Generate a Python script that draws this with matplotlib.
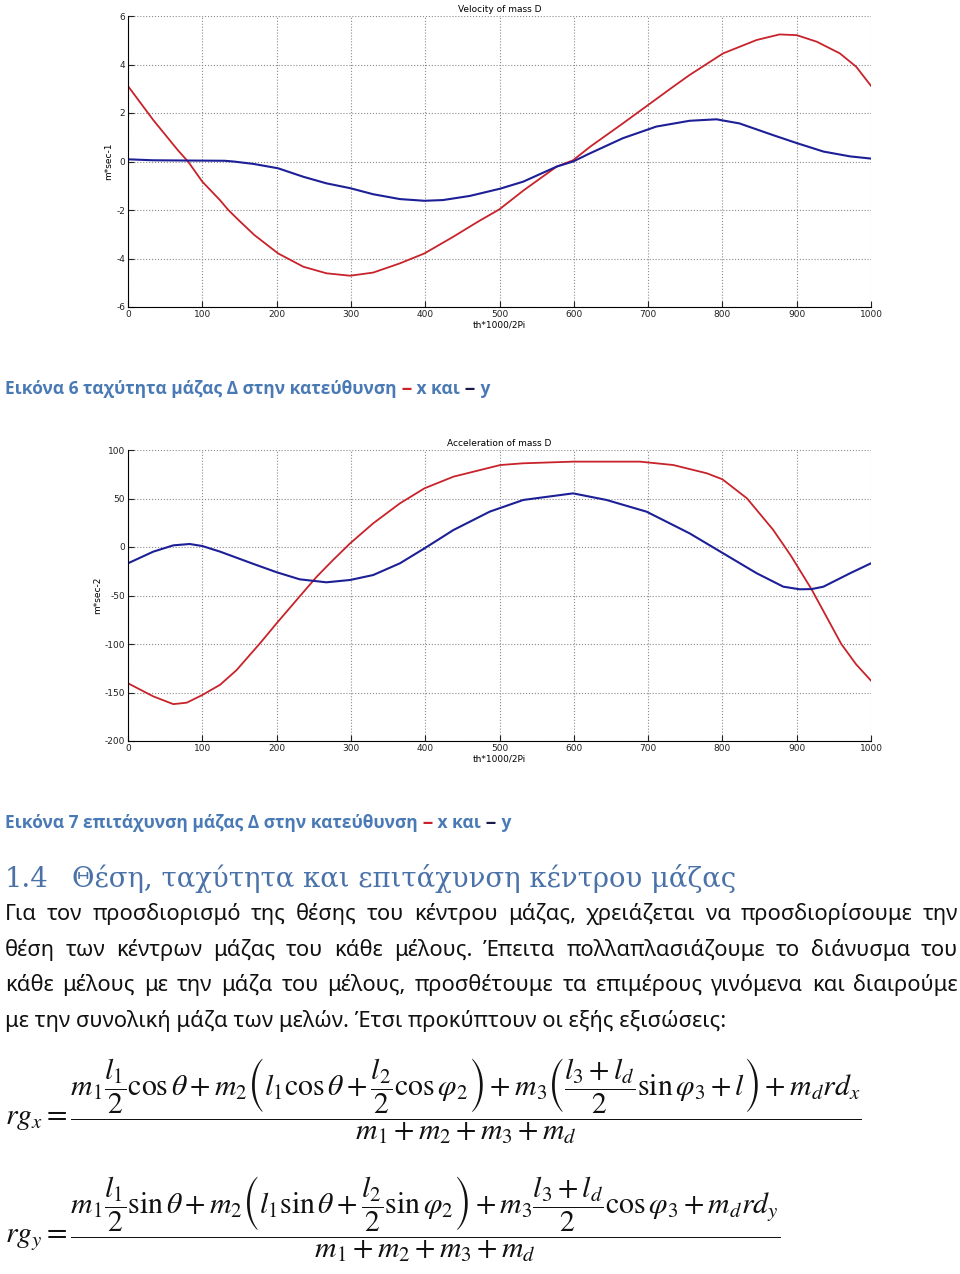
import matplotlib
matplotlib.use("Agg")
import matplotlib.pyplot as plt

# --- data (th*1000/2Pi -> value) ---
vel_x_th = [0, 34, 67, 81, 100, 124, 135, 150, 170, 202, 236, 267, 299, 330, 366, 399,
            438, 470, 500, 532, 577, 599, 622, 666, 700, 734, 756, 801, 846, 877, 900,
            927, 958, 980, 1000]
vel_x = [3.11, 1.71, 0.47, -0.01, -0.83, -1.6, -2.0, -2.45, -3.03, -3.79, -4.34, -4.61,
         -4.71, -4.58, -4.2, -3.79, -3.1, -2.5, -1.97, -1.2, -0.21, 0.05, 0.61, 1.57,
         2.33, 3.09, 3.57, 4.46, 5.01, 5.24, 5.21, 4.94, 4.46, 3.91, 3.12]

vel_y_th = [0, 34, 79, 130, 142, 169, 202, 236, 267, 299, 330, 366, 399, 424, 460,
            501, 532, 577, 599, 622, 666, 711, 756, 792, 823, 868, 900, 936, 972, 1000]
vel_y = [0.09, 0.05, 0.04, 0.03, 0.0, -0.1, -0.28, -0.63, -0.9, -1.1, -1.35, -1.55,
         -1.62, -1.59, -1.42, -1.12, -0.83, -0.21, 0.0, 0.34, 0.96, 1.44, 1.68, 1.74,
         1.57, 1.09, 0.76, 0.41, 0.21, 0.12]

acc_x_th = [0, 34, 61, 79, 100, 124, 146, 178, 200, 231, 254, 276, 299, 330, 366,
            399, 438, 501, 532, 599, 689, 734, 779, 800, 833, 868, 886, 893, 920,
            940, 960, 980, 1000]
acc_x = [-140.5, -154, -162, -160.5, -152.6, -142, -127, -99, -78.7, -51, -30.6,
         -13.4, 3.8, 24.4, 45, 60.5, 72.5, 84.5, 86.3, 88, 88, 84.5, 76, 69.8, 50.2,
         18, -2, -10, -43.6, -71.8, -100, -121, -137.8]

acc_y_th = [0, 34, 61, 83, 100, 124, 169, 200, 231, 267, 299, 330, 366, 399, 438,
            487, 532, 599, 644, 698, 756, 801, 846, 882, 904, 920, 936, 972, 1000]
acc_y = [-16.8, -4.8, 1.7, 3.1, 1.0, -4.8, -17.5, -26, -33.3, -36.4, -34, -28.9,
         -16.8, -1.4, 17.5, 36.5, 48.5, 55.3, 48.5, 36.4, 14, -6.5, -27, -40.9,
         -43.6, -43.4, -40.9, -27, -16.8]

x_ticks = [0, 100, 200, 300, 400, 500, 600, 700, 800, 900, 1000]
vel_ticks = [-6, -4, -2, 0, 2, 4, 6]
acc_ticks = [-200, -150, -100, -50, 0, 50, 100]

caption_6 = ["Εικόνα 6 ταχύτητα μάζας Δ στην κατεύθυνση ", "--", " x και ", "--", " y"]
caption_7 = ["Εικόνα 7 επιτάχυνση μάζας Δ στην κατεύθυνση ", "--", " x και ", "--", " y"]
heading_num = "1.4"
heading_text = "Θέση, ταχύτητα και επιτάχυνση κέντρου μάζας"
paragraph = [
    "Για τον προσδιορισμό της θέσης του κέντρου μάζας, χρειάζεται να προσδιορίσουμε την",
    "θέση των κέντρων μάζας του κάθε μέλους. Έπειτα πολλαπλασιάζουμε το διάνυσμα του",
    "κάθε μέλους με την μάζα του μέλους, προσθέτουμε τα επιμέρους γινόμενα και διαιρούμε",
    "με την συνολική μάζα των μελών. Έτσι προκύπτουν οι εξής εξισώσεις:",
]
eq_x = (r"$rg_x = \dfrac{m_1 \dfrac{l_1}{2}\cos\theta + m_2\left(l_1\cos\theta + "
        r"\dfrac{l_2}{2}\cos\varphi_2\right) + m_3\left(\dfrac{l_3+l_d}{2}\sin\varphi_3 + l\right)"
        r" + m_d r d_x}{m_1+m_2+m_3+m_d}$")
eq_y = (r"$rg_y = \dfrac{m_1 \dfrac{l_1}{2}\sin\theta + m_2\left(l_1\sin\theta + "
        r"\dfrac{l_2}{2}\sin\varphi_2\right) + m_3\dfrac{l_3+l_d}{2}\cos\varphi_3"
        r" + m_d r d_y}{m_1+m_2+m_3+m_d}$")

RED = "#c8222a"
BLUE = "#1c1f96"
CAP_BLUE = "#4a7ab5"
HEAD_BLUE = "#4a72a8"

W, H = 960, 1274
plt.rcParams["mathtext.fontset"] = "stix"
plt.rcParams["axes.unicode_minus"] = False
fig = plt.figure(figsize=(W / 100, H / 100), dpi=100)
fig.patch.set_facecolor("white")
NARROW = ["Liberation Sans Narrow", "DejaVu Sans"]


def frac(x, y):
    # pixel position (top-left origin) -> figure fraction
    return x / W, 1 - y / H


def matlab_axes(top_px, bottom_px, ticks, ylab, title):
    l, b = frac(128, bottom_px)
    ax = fig.add_axes([l, b, (871 - 128) / W, (bottom_px - top_px) / H])
    ax.set_xlim(0, 1000)
    ax.set_ylim(ticks[0], ticks[-1])
    ax.set_xticks(x_ticks)
    ax.set_yticks(ticks)
    ax.grid(True, linestyle=":", color="#8a8a8a", linewidth=0.8)
    for s in ["top", "right"]:
        ax.spines[s].set_visible(False)
    ax.tick_params(direction="in", length=4, labelsize=6.5, pad=2, colors="#222222")
    for lab in ax.get_xticklabels() + ax.get_yticklabels():
        lab.set_family(NARROW)
    ax.set_xlabel("th*1000/2Pi", fontsize=6.5, labelpad=1, family=NARROW)
    ax.set_ylabel(ylab, fontsize=6.5, labelpad=2, family=NARROW)
    ax.set_title(title, fontsize=6.5, pad=3, family=NARROW)
    return ax


ax1 = matlab_axes(16, 307, vel_ticks, "m*sec-1", "Velocity of mass D")
ax1.plot(vel_x_th, vel_x, color=RED, lw=1.3)
ax1.plot(vel_y_th, vel_y, color=BLUE, lw=1.5)

ax2 = matlab_axes(450, 741, acc_ticks, "m*sec-2", "Acceleration of mass D")
ax2.plot(acc_x_th, acc_x, color=RED, lw=1.3)
ax2.plot(acc_y_th, acc_y, color=BLUE, lw=1.5)

renderer = fig.canvas.get_renderer()
SANS = ["Open Sans", "Noto Sans", "DejaVu Sans"]


def runs(x, y, pieces, colors, **kw):
    for txt, col in zip(pieces, colors):
        t = fig.text(*frac(x, y), txt, color=col, va="baseline", ha="left", **kw)
        x = t.get_window_extent(renderer).x1


cap_cols = [CAP_BLUE, RED, CAP_BLUE, "#1a1a4a", CAP_BLUE]
runs(5, 394, caption_6, cap_cols, fontsize=12.5, weight="bold", family=SANS)
runs(5, 828, caption_7, cap_cols, fontsize=12.5, weight="bold", family=SANS)

SERIF = ["DejaVu Serif", "Liberation Serif"]
fig.text(*frac(5, 887), heading_num, fontsize=19.8, color=HEAD_BLUE,
         family=SERIF, va="baseline")
fig.text(*frac(72, 887), heading_text, fontsize=19.8, color=HEAD_BLUE,
         family=SERIF, va="baseline")

# justified paragraph
base_y = [920, 956, 991, 1027]
PARA = ["Noto Sans", "DejaVu Sans"]
for i, line in enumerate(paragraph):
    words = line.split()
    kw = dict(fontsize=15.8, color="#111111", family=PARA, va="baseline", ha="left")
    if i == len(paragraph) - 1:
        fig.text(*frac(5, base_y[i]), line, **kw)
        continue
    widths = []
    for w_ in words:
        t = fig.text(0, 0, w_, **kw)
        widths.append(t.get_window_extent(renderer).width)
        t.remove()
    gap = (958 - 5 - sum(widths)) / (len(words) - 1)
    x = 5
    for w_, wd in zip(words, widths):
        fig.text(*frac(x, base_y[i]), w_, **kw)
        x += wd + gap

fig.text(*frac(5, 1101), eq_x, fontsize=21.4, color="#111111", va="center", ha="left")
fig.text(*frac(5, 1219), eq_y, fontsize=21.4, color="#111111", va="center", ha="left")

fig.savefig("out.png", dpi=100, facecolor="white")
